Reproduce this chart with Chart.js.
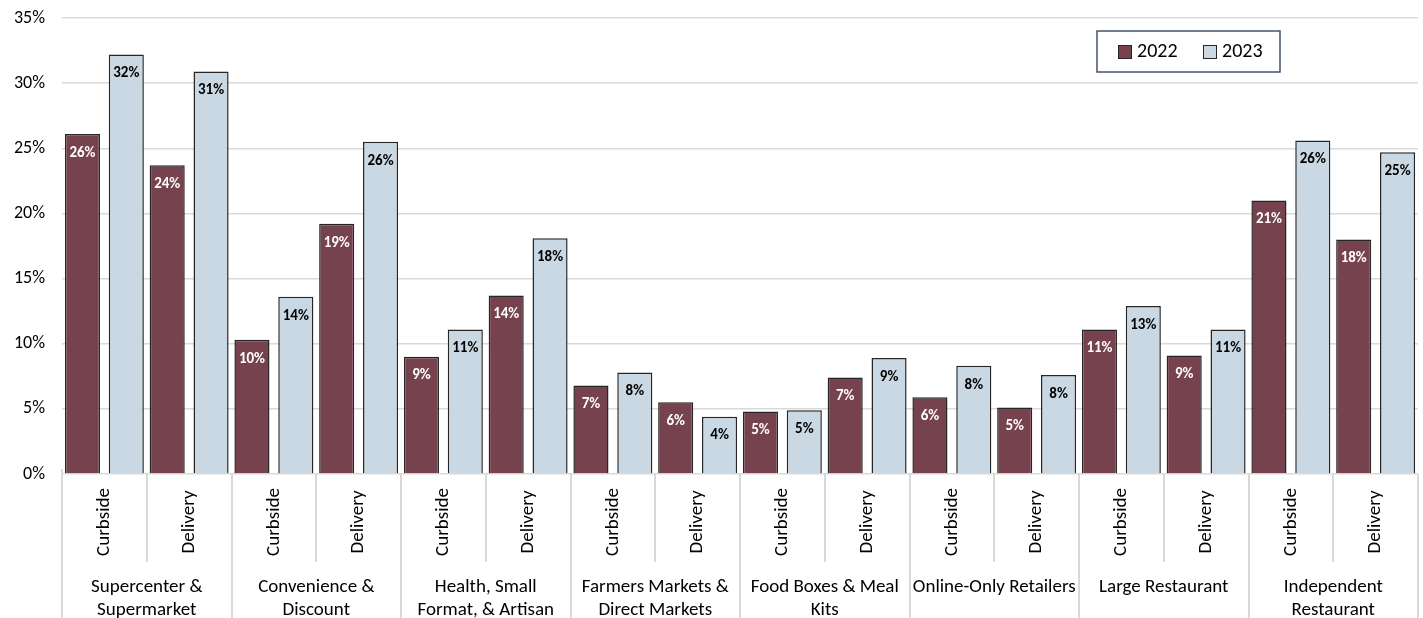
<!DOCTYPE html>
<html lang="en">
<head>
    <meta charset="UTF-8">
    <meta name="viewport" content="width=device-width, initial-scale=1.0">
    <title>Curbside and Delivery Use by Store Type</title>
    <script src="https://cdn.jsdelivr.net/npm/chart.js"></script>
    <style>
        html, body { margin: 0; padding: 0; background: #fff; }
        #wrap { width: 1423px; height: 618px; }
    </style>
</head>
<body>
    <div id="wrap"><canvas id="myChart"></canvas></div>

    <script>
        // store types (two-line labels) and the two shopping methods in each
        const storeTypes = [
            ['Supercenter &', 'Supermarket'],
            ['Convenience &', 'Discount'],
            ['Health, Small', 'Format, & Artisan'],
            ['Farmers Markets &', 'Direct Markets'],
            ['Food Boxes & Meal', 'Kits'],
            ['Online-Only Retailers'],
            ['Large Restaurant'],
            ['Independent', 'Restaurant']
        ];
        const methods = ['Curbside', 'Delivery'];

        // share of shoppers (%), ordered store type by store type, curbside then delivery
        const values2022 = [26.1, 23.7, 10.3, 19.2, 9.0, 13.7, 6.8, 5.5, 4.8, 7.4, 5.9, 5.1, 11.1, 9.1, 21.0, 18.0];
        const values2023 = [32.2, 30.9, 13.6, 25.5, 11.1, 18.1, 7.8, 4.4, 4.9, 8.9, 8.3, 7.6, 12.9, 11.1, 25.6, 24.7];

        const yTicks = { min: 0, max: 35, step: 5 };

        const FONT = 'Carlito, Calibri, Lato, sans-serif';
        const MAROON = '#76424e';
        const LIGHTBLUE = '#cad8e3';
        const EDGE = '#262626';
        const RULE = '#d9d9d9';

        const labels = [];
        storeTypes.forEach(() => methods.forEach(m => labels.push(m)));

        // value labels inside the top of each bar
        const valueLabels = {
            id: 'valueLabels',
            afterDatasetsDraw(chart) {
                const ctx = chart.ctx;
                ctx.save();
                ctx.font = 'bold 15px ' + FONT;
                ctx.textAlign = 'center';
                ctx.textBaseline = 'middle';
                chart.data.datasets.forEach((ds, di) => {
                    const meta = chart.getDatasetMeta(di);
                    ctx.fillStyle = di === 0 ? '#ffffff' : '#000000';
                    meta.data.forEach((bar, i) => {
                        ctx.fillText(Math.round(ds.data[i]) + '%', bar.x, bar.y + 19);
                    });
                });
                ctx.restore();
            }
        };

        // two-level category axis: rotated method names, then store type names
        const groupedAxis = {
            id: 'groupedAxis',
            afterDraw(chart) {
                const ctx = chart.ctx;
                const x = chart.scales.x;
                const top = chart.chartArea.bottom;
                const bottom = chart.height;
                const half = (x.getPixelForValue(1) - x.getPixelForValue(0)) / 2;
                ctx.save();
                ctx.strokeStyle = RULE;
                ctx.lineWidth = 2;
                for (let i = 0; i <= labels.length; i++) {
                    const px = Math.round(x.getPixelForValue(i) - half);
                    const isGroupEdge = i % methods.length === 0;
                    ctx.beginPath();
                    ctx.moveTo(px, isGroupEdge && i === 0 ? top - 5 : top);
                    ctx.lineTo(px, isGroupEdge ? bottom : top + 88);
                    ctx.stroke();
                }

                ctx.fillStyle = '#000000';
                ctx.font = '19px ' + FONT;
                ctx.textAlign = 'center';
                ctx.textBaseline = 'middle';
                labels.forEach((lab, i) => {
                    ctx.save();
                    ctx.translate(x.getPixelForValue(i), top + 48);
                    ctx.rotate(-Math.PI / 2);
                    ctx.fillText(lab, 0, 0);
                    ctx.restore();
                });

                storeTypes.forEach((lines, g) => {
                    const cx = (x.getPixelForValue(g * 2) + x.getPixelForValue(g * 2 + 1)) / 2;
                    lines.forEach((line, j) => {
                        ctx.fillText(line, cx, top + 113 + j * 23);
                    });
                });
                ctx.restore();
            }
        };

        // boxed legend in the upper right
        const boxLegend = {
            id: 'boxLegend',
            afterDraw(chart) {
                const ctx = chart.ctx;
                const bx = 1097, by = 31, bw = 183, bh = 41;
                ctx.save();
                ctx.strokeStyle = '#44546a';
                ctx.lineWidth = 1.5;
                ctx.strokeRect(bx, by, bw, bh);
                ctx.font = '20px ' + FONT;
                ctx.textBaseline = 'middle';
                ctx.textAlign = 'left';
                let cx = bx + 21;
                chart.data.datasets.forEach(ds => {
                    ctx.fillStyle = ds.backgroundColor;
                    ctx.fillRect(cx, by + 14, 14, 14);
                    ctx.strokeStyle = EDGE;
                    ctx.lineWidth = 1;
                    ctx.strokeRect(cx + 0.5, by + 14.5, 13, 13);
                    ctx.fillStyle = '#000000';
                    ctx.fillText(ds.label, cx + 19, by + 21);
                    cx += 85;
                });
                ctx.restore();
            }
        };

        var ctx = document.getElementById('myChart').getContext('2d');
        var myChart = new Chart(ctx, {
            type: 'bar',
            data: {
                labels: labels,
                datasets: [{
                    label: '2022',
                    data: values2022,
                    backgroundColor: MAROON,
                    borderColor: EDGE,
                    borderWidth: 1.5
                }, {
                    label: '2023',
                    data: values2023,
                    backgroundColor: LIGHTBLUE,
                    borderColor: EDGE,
                    borderWidth: 1.5
                }]
            },
            options: {
                responsive: true,
                maintainAspectRatio: false,
                animation: false,
                layout: { padding: { top: 18, right: 5, left: 0, bottom: 0 } },
                datasets: {
                    bar: { categoryPercentage: 1.035, barPercentage: 0.8 }
                },
                plugins: {
                    legend: { display: false },
                    tooltip: { enabled: false }
                },
                scales: {
                    x: {
                        ticks: { display: false },
                        grid: { display: false },
                        border: { display: false },
                        afterFit(scale) { scale.height = 144; }
                    },
                    y: {
                        min: yTicks.min,
                        max: yTicks.max,
                        ticks: {
                            stepSize: yTicks.step,
                            padding: 17,
                            color: '#000000',
                            font: { family: FONT, size: 18 },
                            callback: v => v + '%'
                        },
                        grid: { color: RULE, lineWidth: 1.5, drawTicks: false },
                        border: { display: false },
                        afterFit(scale) {
                            scale.width = 62;
                            scale.paddingTop = 0;
                            scale.paddingBottom = 0;
                        }
                    }
                }
            },
            plugins: [valueLabels, groupedAxis, boxLegend]
        });
    </script>
</body>
</html>
